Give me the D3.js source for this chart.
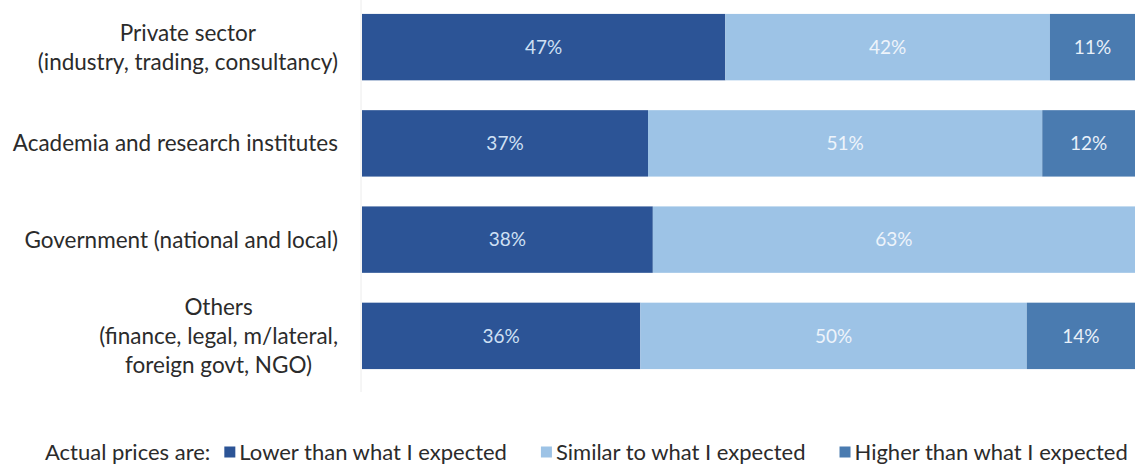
<!DOCTYPE html>
<html>
<head>
<meta charset="utf-8">
<script src="https://cdn.jsdelivr.net/npm/d3@7"></script>
<style>
  html, body { margin: 0; padding: 0; background: #ffffff; }
  svg { display: block; font-family: "Lato", "Open Sans", sans-serif; }
</style>
</head>
<body>
<svg id="chart" width="1139" height="470"></svg>
<script>
// Survey groups (each label line is drawn on its own row)
const categories = [
  ["Private sector", "(industry, trading, consultancy)"],
  ["Academia and research institutes"],
  ["Government (national and local)"],
  ["Others", "(finance, legal, m/lateral,", "foreign govt, NGO)"]
];
const seriesNames = [
  "Lower than what I expected",
  "Similar to what I expected",
  "Higher than what I expected"
];
// Shares per group, in percent (null = not reported)
const lowerValues   = [47, 37, 38, 36];
const similarValues = [42, 51, 63, 50];
const higherValues  = [11, 12, null, 14];
const legendTitle = "Actual prices are:";

const colors = ["#2c5496", "#9dc3e6", "#4a7bb0"];
const labelColors = ["#cfe0f4", "#eef4fb", "#e8f0f9"];

const svg = d3.select("#chart");
const keys = seriesNames;
const rows = categories.map((c, i) => ({
  id: i,
  [keys[0]]: lowerValues[i] || 0,
  [keys[1]]: similarValues[i] || 0,
  [keys[2]]: higherValues[i] || 0,
  raw: [lowerValues[i], similarValues[i], higherValues[i]]
}));

// 100% stacked layout: each row is normalised to its own total
const stacked = d3.stack().keys(keys).offset(d3.stackOffsetExpand)(rows);

const x = d3.scaleLinear().domain([0, 1]).range([362, 1135]);
const y = d3.scaleBand().domain(rows.map(r => r.id))
  .range([-1, 384]).paddingInner(0.31).paddingOuter(0.155);

// faint category axis line
svg.append("line")
  .attr("x1", x(0) - 1).attr("x2", x(0) - 1)
  .attr("y1", 0).attr("y2", 392)
  .attr("stroke", "#ececec").attr("stroke-width", 1);

const layers = svg.append("g").selectAll("g")
  .data(stacked).join("g")
  .attr("fill", (d, i) => colors[i]);

layers.selectAll("rect")
  .data(d => d.filter(p => p.data.raw[d.index] != null))
  .join("rect")
  .attr("x", p => x(p[0]))
  .attr("y", p => y(p.data.id))
  .attr("width", p => x(p[1]) - x(p[0]))
  .attr("height", y.bandwidth());

// value labels centred in each segment
stacked.forEach((layer, si) => {
  svg.append("g").selectAll("text")
    .data(layer.filter(p => p.data.raw[si] != null))
    .join("text")
    .attr("x", p => (x(p[0]) + x(p[1])) / 2)
    .attr("y", p => y(p.data.id) + y.bandwidth() / 2)
    .attr("dy", "0.35em")
    .attr("text-anchor", "middle")
    .attr("font-size", 19)
    .attr("fill", labelColors[si])
    .text(p => p.data.raw[si] + "%");
});

// category labels: lines centred on each other, block right-aligned to the axis
const labelRight = 338;
const lineGap = 29;
const catG = svg.append("g").attr("font-size", 22.5).attr("fill", "#2b2b2b");
categories.forEach((lines, i) => {
  const g = catG.append("g");
  const cy = y(i) + y.bandwidth() / 2;
  const n = lines.length;
  const texts = lines.map((line, k) =>
    g.append("text")
      .attr("text-anchor", "middle")
      .attr("y", cy + (k - (n - 1) / 2) * lineGap)
      .attr("dy", "0.35em")
      .text(line));
  const w = d3.max(texts, t => t.node().getComputedTextLength());
  texts.forEach(t => t.attr("x", labelRight - w / 2));
});

// legend along the bottom
const legend = svg.append("g").attr("font-size", 22).attr("fill", "#2b2b2b");
const ly = 452;
let lx = 45;
const title = legend.append("text").attr("x", lx).attr("y", ly).attr("dy", "0.35em").text(legendTitle);
lx += title.node().getComputedTextLength() + 14;
keys.forEach((k, i) => {
  legend.append("rect").attr("x", lx).attr("y", ly - 5.5).attr("width", 11).attr("height", 11).attr("fill", colors[i]);
  const t = legend.append("text").attr("x", lx + 15).attr("y", ly).attr("dy", "0.35em").text(k);
  lx += 15 + t.node().getComputedTextLength() + 34;
});
</script>
</body>
</html>
